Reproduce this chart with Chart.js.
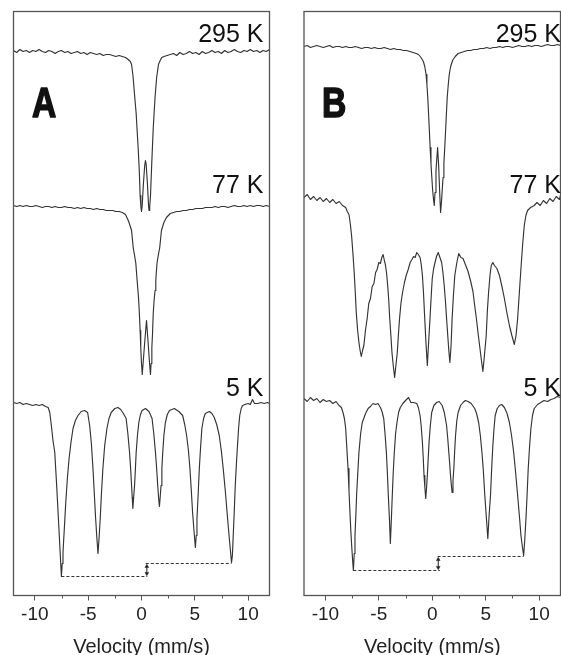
<!DOCTYPE html>
<html><head><meta charset="utf-8">
<script src="https://cdn.jsdelivr.net/npm/chart.js@4.4.0/dist/chart.umd.min.js"></script>
<style>
html,body{margin:0;padding:0;background:#fff;}
#wrap{position:relative;width:561px;height:655px;overflow:hidden;background:#fff;}
canvas{position:absolute;top:0;}
#cA{left:0;} #cB{left:282px;}
</style></head><body>
<div id="wrap"><canvas id="cA" width="282" height="655"></canvas><canvas id="cB" width="300" height="655"></canvas></div>
<script>
// ---- data (velocity mm/s, stacked intensity a.u.) ----
const tickValues = [-10, -5, 0, 5, 10];
const tickLabels = ['-10', '-5', '0', '5', '10'];
const minorTickValues = [-7.5, -2.5, 2.5, 7.5];
const tempLabels = ['295 K', '77 K', '5 K'];
const panelLetters = ['A', 'B'];
const axisTitle = 'Velocity (mm/s)';

const A_295K = [[-12,545],[-11.7,543],[-11.4,546],[-11.1,544],[-10.8,545],[-10.5,543],[-10.2,545],[-9.9,544],[-9.6,546],[-9.3,544],[-9,543],[-8.7,545],[-8.4,544],[-8.1,542],[-7.8,544],[-7.5,545],[-7.2,543],[-6.9,544],[-6.6,542],[-6.3,543],[-6,544],[-5.7,542],[-5.4,543],[-5.1,541],[-4.8,543],[-4.5,542],[-4.2,541],[-3.9,542],[-3.6,540],[-3.3,541],[-3,541],[-2.7,540],[-2.4,539],[-2.1,540],[-1.8,539],[-1.5,538],
[-1.25,536],[-1.05,534],[-0.93,531],[-0.8,520],[-0.63,498],[-0.5,482],[-0.41,465],[-0.3,445],[-0.2,423],[-0.13,400],[-0.06,389],[0,384],[0.06,389],[0.18,412],[0.3,430],[0.37,435],[0.44,431],[0.56,411],[0.66,390],[0.71,385],[0.77,389],[0.84,399],[0.96,432],[1.09,465],[1.18,482],[1.27,498],[1.42,518],[1.59,531],[1.75,535],[1.9,538],[2.1,539],[2.4,540],
[2.7,541],[3,542],[3.3,540],[3.6,543],[3.9,541],[4.2,542],[4.5,544],[4.8,542],[5.1,543],[5.4,541],[5.7,544],[6,542],[6.3,543],[6.6,545],[6.9,543],[7.2,544],[7.5,542],[7.8,545],[8.1,543],[8.4,544],[8.7,546],[9,544],[9.3,543],[9.6,545],[9.9,544],[10.2,546],[10.5,544],[10.8,545],[11.1,543],[11.4,545],[11.7,544],[12,546]];

const A_77K = [[-12,390],[-11.7,389],[-11.4,390],[-11.1,389],[-10.8,390],[-10.5,389],[-10.2,389],[-9.9,390],[-9.6,389],[-9.3,388],[-9,389],[-8.7,389],[-8.4,388],[-8.1,389],[-7.8,388],[-7.5,388],[-7.2,389],[-6.9,388],[-6.6,388],[-6.3,387],[-6,388],[-5.7,387],[-5.4,388],[-5.1,387],[-4.8,387],[-4.5,386],[-4.2,387],[-3.9,386],[-3.6,386],[-3.3,385],[-3,385],[-2.7,385],[-2.4,384],[-2.1,384],[-1.8,383],[-1.5,381],
[-1.2,374],[-0.93,365],[-0.78,348],[-0.65,340],[-0.53,332],[-0.41,315],[-0.28,298],[-0.2,282],[-0.13,265],[-0.07,248],[0,232],[0.07,221],[0.17,235],[0.3,253],[0.47,275],[0.62,253],[0.75,233],[0.84,221],[0.9,232],[0.97,248],[1.03,261],[1.1,282],[1.18,295],[1.27,305],[1.34,315],[1.45,332],[1.57,340],[1.71,348],[1.87,365],[2.1,373],[2.34,378],[2.7,382],
[3,383],[3.3,384],[3.6,384],[3.9,385],[4.2,385],[4.5,386],[4.8,386],[5.1,387],[5.4,387],[5.7,387],[6,388],[6.3,388],[6.6,388],[6.9,389],[7.2,388],[7.5,389],[7.8,389],[8.1,388],[8.4,389],[8.7,390],[9,389],[9.3,389],[9.6,390],[9.9,389],[10.2,390],[10.5,389],[10.8,390],[11.1,390],[11.4,389],[11.7,390],[12,389]];

const A_5K = [[-12,193],[-11.7,192],[-11.4,193],[-11.1,191],[-10.8,192],[-10.5,191],[-10.2,190],[-9.9,191],[-9.6,190],[-9.3,191],[-9,189],
[-8.75,188],[-8.6,183],[-8.45,170],[-8.3,155],[-8.13,143],[-7.98,115],[-7.82,83],[-7.66,50],[-7.51,19],[-7.43,32],[-7.36,43],[-7.23,68],[-7.1,93],[-6.95,117],[-6.79,137],[-6.6,154],[-6.42,167],[-6.2,175],[-5.95,180],[-5.65,184],[-5.33,185],
[-5.05,183],[-4.86,170],[-4.7,152],[-4.55,127],[-4.43,103],[-4.3,77],[-4.18,57],[-4.08,42],[-3.98,57],[-3.87,77],[-3.75,103],[-3.62,127],[-3.45,150],[-3.24,167],[-3.05,177],[-2.84,183],[-2.5,187],[-2.21,188],
[-1.95,186],[-1.7,182],[-1.44,177],[-1.28,162],[-1.12,143],[-1.02,127],[-0.93,110],[-0.87,98],[-0.81,87],[-0.74,98],[-0.65,110],[-0.57,127],[-0.5,143],[-0.38,160],[-0.25,173],[-0.1,181],[0.06,185],[0.37,187],
[0.7,184],[0.99,177],[1.15,162],[1.31,143],[1.42,127],[1.52,110],[1.6,98],[1.68,89],[1.75,98],[1.83,110],[1.91,127],[1.99,143],[2.1,160],[2.24,173],[2.42,181],[2.62,185],[3.08,187],
[3.5,184],[3.86,180],[4.05,171],[4.23,160],[4.4,145],[4.54,127],[4.67,105],[4.79,83],[4.92,65],[5.05,48],[5.13,60],[5.2,77],[5.32,103],[5.42,127],[5.55,150],[5.66,167],[5.82,177],[5.98,182],[6.36,184],
[6.6,182],[6.82,178],[7.05,171],[7.29,160],[7.48,145],[7.66,127],[7.87,103],[8.07,77],[8.25,55],[8.44,33],[8.52,40],[8.6,60],[8.7,85],[8.79,110],[8.9,132],[9,150],[9.1,167],[9.21,180],[9.35,187],[9.47,190],
[9.7,191],[10,192],[10.2,191],[10.4,196],[10.6,192],[10.9,192],[11.2,193],[11.5,192],[11.8,193],[12,192]];

const A_splitLow = [[-7.51,19],[0.55,19]];
const A_splitHigh = [[0.4,32],[8.44,32]];
const A_arrow = [[0.5,22],[0.5,29]];

const B_295K = [[-12,549],[-11.7,550],[-11.4,548],[-11.1,549],[-10.8,550],[-10.5,549],[-10.2,548],[-9.9,549],[-9.6,550],[-9.3,548],[-9,549],[-8.7,549],[-8.4,548],[-8.1,549],[-7.8,548],[-7.5,548],[-7.2,549],[-6.9,548],[-6.6,547],[-6.3,548],[-6,548],[-5.7,547],[-5.4,548],[-5.1,547],[-4.8,547],[-4.5,548],[-4.2,547],[-3.9,546],[-3.6,547],[-3.3,546],[-3,546],[-2.7,545],[-2.4,545],[-2.1,544],
[-1.8,543],[-1.5,542],[-1.29,541],[-1.05,538],[-0.83,534],[-0.7,529],[-0.58,521],[-0.5,511],[-0.42,498],[-0.35,483],[-0.27,465],[-0.2,448],[-0.12,432],[-0.04,418],[0.04,405],[0.12,396],[0.19,390],[0.26,403],[0.35,425],[0.5,448],[0.6,430],[0.7,402],[0.78,383],[0.86,393],[0.93,405],[1.01,418],[1.09,432],[1.17,448],[1.25,465],[1.33,483],[1.4,498],[1.5,511],[1.59,521],[1.72,529],[1.9,535],[2.15,539],[2.42,542],[2.7,543],
[3,544],[3.3,545],[3.6,545],[3.9,546],[4.2,546],[4.5,547],[4.8,547],[5.1,548],[5.4,547],[5.7,548],[6,548],[6.3,549],[6.6,548],[6.9,549],[7.2,549],[7.5,548],[7.8,549],[8.1,550],[8.4,549],[8.7,549],[9,550],[9.3,549],[9.6,550],[9.9,550],[10.2,549],[10.5,550],[10.8,551],[11.1,550],[11.4,550],[11.7,551],[12,550]];

const B_77K = [[-12,398],[-11.7,401],[-11.4,396],[-11.1,399],[-10.8,395],[-10.5,398],[-10.2,394],[-9.9,397],[-9.6,393],[-9.3,396],[-9,392],[-8.7,394],[-8.4,390],[-8.1,388],[-7.95,384],[-7.79,381],[-7.66,371],[-7.54,359],[-7.43,343],[-7.32,326],[-7.21,305],[-7.11,283],[-6.98,265],[-6.86,253],[-6.75,245],[-6.64,239],[-6.52,245],[-6.4,250],[-6.25,265],[-6.09,277],[-5.94,292],[-5.78,297],[-5.62,309],[-5.46,312],[-5.3,323],[-5.16,326],[-5,333],[-4.85,332],[-4.72,338],[-4.6,341],[-4.5,336],[-4.39,331],[-4.28,323],[-4.17,310],[-4.07,295],[-3.98,277],[-3.87,260],[-3.77,243],[-3.65,230],[-3.52,218],[-3.4,230],[-3.27,243],[-3.17,260],[-3.06,277],[-2.92,293],[-2.78,303],[-2.6,313],[-2.44,320],[-2.25,326],[-2.07,333],[-1.9,336],[-1.75,339],[-1.6,338],[-1.45,343],[-1.3,341],[-1.14,338],[-1.03,331],[-0.92,320],[-0.82,303],[-0.73,283],[-0.6,255],[-0.46,230],[-0.33,255],[-0.21,277],[-0.1,299],[0,317],[0.13,327],[0.26,333],[0.4,339],[0.56,343],[0.72,338],[0.88,333],[1,323],[1.12,310],[1.23,295],[1.34,277],[1.45,260],[1.55,245],[1.65,233],[1.76,250],[1.86,277],[1.98,300],[2.11,320],[2.3,333],[2.48,342],[2.68,338],[2.88,337],[3.1,331],[3.35,324],[3.6,314],[3.81,304],[3.97,290],[4.13,277],[4.28,263],[4.43,250],[4.58,237],[4.74,224],[4.9,242],[5.05,260],[5.16,285],[5.27,303],[5.4,320],[5.52,330],[5.67,333],[5.82,330],[6.05,327],[6.29,320],[6.52,309],[6.75,297],[6.98,283],[7.22,270],[7.45,260],[7.68,251],[7.84,260],[7.99,277],[8.15,303],[8.3,327],[8.45,350],[8.61,370],[8.76,380],[8.92,385],[9.2,388],[9.54,390],[9.8,393],[10.1,390],[10.4,395],[10.7,392],[11,397],[11.3,394],[11.6,399],[11.9,396],[12,400]];

const B_5K = [[-12,197],[-11.7,194],[-11.4,198],[-11.1,195],[-10.8,197],[-10.5,193],[-10.2,196],[-9.9,194],[-9.6,195],[-9.3,192],[-9,194],
[-8.72,190],[-8.5,188],[-8.35,183],[-8.22,177],[-8.1,167],[-7.99,147],[-7.88,127],[-7.79,105],[-7.7,83],[-7.62,65],[-7.54,50],[-7.46,37],[-7.38,25],[-7.3,42],[-7.23,60],[-7.15,80],[-7.08,100],[-6.97,122],[-6.86,143],[-6.7,162],[-6.55,173],[-6.24,182],[-6,187],[-5.78,189],[-5.55,192],[-5.31,191],[-5.08,192],[-4.85,188],[-4.7,184],[-4.54,177],[-4.42,162],[-4.29,143],[-4.2,123],[-4.11,100],[-4,75],[-3.92,52],[-3.83,75],[-3.74,100],[-3.65,123],[-3.55,143],[-3.43,162],[-3.3,173],[-3.15,183],[-2.99,188],[-2.75,192],[-2.5,195],[-2.22,198],[-2,193],[-1.75,193],[-1.45,192],[-1.3,188],[-1.14,180],[-1.03,169],[-0.92,153],[-0.84,137],[-0.77,120],[-0.69,108],[-0.61,97],[-0.53,108],[-0.46,120],[-0.38,137],[-0.3,153],[-0.18,170],[-0.05,183],[0.15,190],[0.41,193],[0.65,194],[0.93,190],[1.13,183],[1.34,170],[1.45,157],[1.55,143],[1.63,132],[1.71,120],[1.78,111],[1.86,103],[1.94,115],[2.02,127],[2.1,145],[2.18,160],[2.3,175],[2.42,183],[2.65,190],[2.88,193],[3.1,195],[3.35,194],[3.65,192],[3.97,187],[4.15,182],[4.34,173],[4.5,160],[4.65,143],[4.78,125],[4.9,103],[5.05,80],[5.2,57],[5.32,80],[5.45,100],[5.56,127],[5.67,150],[5.78,167],[5.89,180],[6.08,187],[6.29,190],[6.5,191],[6.75,188],[7,182],[7.22,173],[7.42,160],[7.62,143],[7.8,123],[7.99,100],[8.15,80],[8.3,60],[8.43,49],[8.55,40],[8.66,56],[8.77,77],[8.88,102],[8.98,127],[9.1,148],[9.23,167],[9.38,180],[9.54,187],[9.85,191],[10.16,193],[10.45,195],[10.8,194],[11.09,196],[11.4,197],[11.7,199],[12,198]];

const B_splitLow = [[-7.38,25],[0.72,25]];
const B_splitHigh = [[0.5,39],[8.55,39]];
const B_arrow = [[0.56,28],[0.56,36]];

// ---- rendering ----
const FONT = "'Liberation Sans', Arial, Helvetica, sans-serif";
Chart.defaults.font.family = FONT;
const LINE = '#333';
const toXY = arr => arr.map(p => ({x: p[0], y: p[1]}));

const decor = {
  id: 'decor',
  afterDraw(chart, args, o) {
    const {ctx, chartArea: a, scales: {x}} = chart;
    ctx.save();
    ctx.strokeStyle = '#555'; ctx.lineWidth = 1.3;
    ctx.strokeRect(a.left, a.top, a.right - a.left, a.bottom - a.top);
    ctx.lineWidth = 1;
    ctx.beginPath();
    minorTickValues.forEach(v => {
      const px = Math.round(x.getPixelForValue(v)) + 0.5;
      ctx.moveTo(px, a.bottom); ctx.lineTo(px, a.bottom + 3);
    });
    ctx.stroke();
    ctx.fillStyle = '#111';
    ctx.font = '25px ' + FONT;
    ctx.textAlign = 'right'; ctx.textBaseline = 'alphabetic';
    tempLabels.forEach((t, i) => ctx.fillText(t, a.right + o.labelDx, a.top + o.labelDy[i]));
    ctx.font = 'bold 42px ' + FONT;
    ctx.textAlign = 'left';
    ctx.translate(a.left + o.letterDx, a.top + o.letterDy);
    ctx.scale(0.8, 1);
    ctx.strokeStyle = '#111'; ctx.lineWidth = 1.6; ctx.lineJoin = 'round';
    ctx.fillText(o.letter, 0, 0);
    ctx.strokeText(o.letter, 0, 0);
    ctx.restore();
  }
};

function makePanel(id, spectra, low, high, arrow, letter, pad, labelDx, letterDx) {
  const ds = spectra.map(s => ({data: toXY(s), borderColor: LINE, borderWidth: 1.15, borderJoinStyle: 'round', pointRadius: 0, tension: 0}));
  ds.push({data: toXY(low), borderColor: LINE, borderWidth: 1, borderDash: [3, 2], pointRadius: 0});
  ds.push({data: toXY(high), borderColor: LINE, borderWidth: 1, borderDash: [3, 2], pointRadius: 0});
  ds.push({data: toXY(arrow), borderColor: '#222', backgroundColor: '#222', borderWidth: 1,
           pointStyle: 'triangle', pointRadius: 2.2, pointRotation: [180, 0], pointBorderWidth: 0.5});
  new Chart(document.getElementById(id), {
    type: 'line',
    data: {datasets: ds},
    options: {
      responsive: false, animation: false, devicePixelRatio: 1,
      layout: {padding: pad},
      plugins: {legend: {display: false}, tooltip: {enabled: false},
        decor: {labelDx: labelDx, labelDy: [30.5, 181.5, 384.5], letter: letter, letterDx: letterDx, letterDy: 105.5}},
      scales: {
        x: {type: 'linear', min: -12, max: 12,
          afterBuildTicks: s => { s.ticks = tickValues.map(v => ({value: v})); },
          afterFit: s => { s.height = 59.5; s.paddingLeft = 0; s.paddingRight = 0; },
          grid: {display: true, drawOnChartArea: false, drawTicks: true, tickLength: 5, tickColor: '#555', tickWidth: 1},
          border: {display: false},
          ticks: {color: '#222', font: {size: 19}, padding: 3, maxRotation: 0, autoSkip: false,
                  callback: (v, i) => tickLabels[i]},
          title: {display: true, text: axisTitle, color: '#222', font: {size: 20}, padding: {top: 0, bottom: -4.5}}
        },
        y: {display: false, min: 0, max: 584}
      }
    },
    plugins: [decor]
  });
}

makePanel('cA', [A_295K, A_77K, A_5K], A_splitLow, A_splitHigh, A_arrow, panelLetters[0],
  {left: 13.5, right: 12.5, top: 11.5, bottom: 0}, -6, 18.5);
makePanel('cB', [B_295K, B_77K, B_5K], B_splitLow, B_splitHigh, B_arrow, panelLetters[1],
  {left: 22, right: 21.5, top: 11.5, bottom: 0}, 0.5, 18);
</script>
</body></html>
